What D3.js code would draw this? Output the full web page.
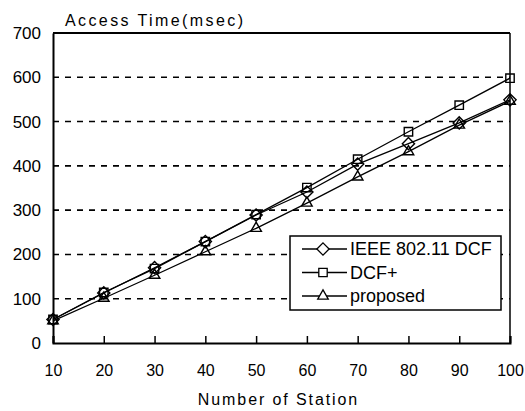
<!DOCTYPE html>
<html>
<head>
<meta charset="utf-8">
<script src="https://cdn.jsdelivr.net/npm/d3@7"></script>
<style>
  html, body { margin: 0; padding: 0; background: #fff; }
  svg { display: block; }
  text { font-family: "Liberation Sans", Arial, sans-serif; fill: #000; }
</style>
</head>
<body>
<div id="chart"></div>
<script>
const stations = [10, 20, 30, 40, 50, 60, 70, 80, 90, 100];
const dcf      = [53, 113, 170, 229, 289, 341, 404, 450, 497, 549];
const dcfPlus  = [53, 114, 168, 229, 290, 351, 415, 477, 537, 598];
const proposed = [50, 101, 153, 206, 259, 316, 375, 432, 492, 546];
const yTicks = [0, 100, 200, 300, 400, 500, 600, 700];
const seriesNames = ["IEEE 802.11 DCF", "DCF+", "proposed"];
const seriesMarkers = ["diamond", "square", "triangle"];
const seriesValues = [dcf, dcfPlus, proposed];

const W = 525, H = 411;
const margin = { left: 53, right: 15, top: 33, bottom: 68 };
const svg = d3.select("#chart").append("svg").attr("width", W).attr("height", H);
svg.append("rect").attr("width", W).attr("height", H).attr("fill", "#fff");

const x = d3.scaleLinear().domain([10, 100]).range([margin.left, W - margin.right]);
const y = d3.scaleLinear().domain([0, 700]).range([H - margin.bottom, margin.top]);

// gridlines
svg.append("g").selectAll("line").data(yTicks.filter(v => v > 0 && v < 700)).join("line")
  .attr("x1", x(10)).attr("x2", x(100))
  .attr("y1", d => y(d)).attr("y2", d => y(d))
  .attr("stroke", "#000").attr("stroke-width", 1.6).attr("stroke-dasharray", "6,6");

// frame
svg.append("line").attr("x1", x(10)).attr("x2", x(100)).attr("y1", y(700)).attr("y2", y(700))
  .attr("stroke", "#000").attr("stroke-width", 2);
svg.append("line").attr("x1", x(100)).attr("x2", x(100)).attr("y1", y(700)).attr("y2", y(0))
  .attr("stroke", "#000").attr("stroke-width", 1.5);

// x axis
const xAxis = d3.axisBottom(x).tickValues(stations).tickSize(-7).tickPadding(22).tickFormat(d3.format("d"));
const gx = svg.append("g").attr("transform", `translate(0,${y(0)})`).call(xAxis);
gx.select(".domain").attr("stroke-width", 2);
gx.selectAll(".tick line").attr("stroke-width", 1.5);
gx.selectAll("text").attr("font-size", 16).attr("font-family", "Liberation Sans, Arial, sans-serif");

// y axis
const yAxis = d3.axisLeft(y).tickValues(yTicks).tickSize(0).tickPadding(12).tickFormat(d3.format("d"));
const gy = svg.append("g").attr("transform", `translate(${x(10)},0)`).call(yAxis);
gy.select(".domain").attr("stroke-width", 2);
gy.selectAll("text").attr("font-size", 17).attr("font-family", "Liberation Sans, Arial, sans-serif");

// titles
svg.append("text").attr("x", 65).attr("y", 26).attr("font-size", 16)
  .attr("letter-spacing", 2.4).text("Access Time(msec)");
svg.append("text").attr("x", (x(10) + x(100)) / 2 - 3).attr("y", 405).attr("text-anchor", "middle")
  .attr("font-size", 16).attr("letter-spacing", 1.9).text("Number of Station");

// markers
const sym = {
  diamond: d3.symbol().type(d3.symbolDiamond2).size(95),
  square: d3.symbol().type(d3.symbolSquare2).size(90),
  triangle: d3.symbol().type(d3.symbolTriangle2).size(80)
};

const line = d3.line().x((d, i) => x(stations[i])).y(d => y(d));
seriesValues.forEach((vals, k) => {
  svg.append("path").datum(vals).attr("d", line)
    .attr("fill", "none").attr("stroke", "#000").attr("stroke-width", 1.3);
  svg.append("g").selectAll("path").data(vals).join("path")
    .attr("transform", (d, i) => `translate(${x(stations[i])},${y(d)})`)
    .attr("d", sym[seriesMarkers[k]])
    .attr("fill", "none").attr("stroke", "#000").attr("stroke-width", 1.4);
});

// legend
const lg = svg.append("g").attr("transform", "translate(290,236)");
lg.append("rect").attr("width", 211).attr("height", 74).attr("fill", "#fff")
  .attr("stroke", "#000").attr("stroke-width", 1.5);
seriesNames.forEach((name, k) => {
  const cy = 13 + k * 23.5;
  lg.append("line").attr("x1", 12).attr("x2", 57).attr("y1", cy).attr("y2", cy)
    .attr("stroke", "#000").attr("stroke-width", 1.3);
  lg.append("path").attr("transform", `translate(33,${cy})`).attr("d", sym[seriesMarkers[k]])
    .attr("fill", "#fff").attr("stroke", "#000").attr("stroke-width", 1.3);
  lg.append("text").attr("x", 60).attr("y", cy + 6).attr("font-size", 18).text(name);
});
</script>
</body>
</html>
